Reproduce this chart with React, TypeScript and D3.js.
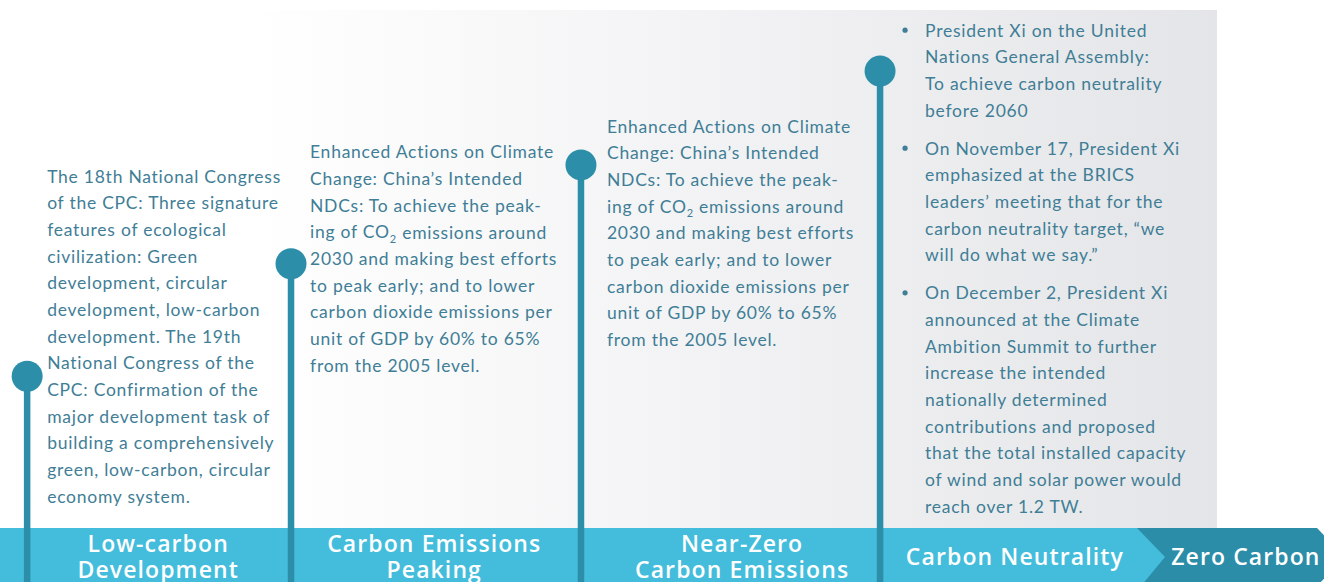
import * as d3 from 'd3';
import React from 'react';

const W = 1324;
const H = 582;

// stages shown in the bottom band (position along timeline, percent)
const stageLabels = [
  ['Low-carbon', 'Development'],
  ['Carbon Emissions', 'Peaking'],
  ['Near-Zero', 'Carbon Emissions'],
  ['Carbon Neutrality'],
  ['Zero Carbon'],
];
const stagePos = [11.95, 32.8, 56.05, 76.65, 94.1];

// milestones: position along timeline (percent) and height level (0-100)
const milestonePos = [2.05, 21.98, 43.88, 66.47];
const milestoneLevel = [29.3, 51.0, 70.1, 88.2];
const textLevel = [67.95, 72.6, 77.6, 96.1];
const textOffset = [20, 19, 26, 45];

const col1 = [
  'The 18th National Congress',
  'of the CPC: Three signature',
  'features of ecological',
  'civilization: Green',
  'development, circular',
  'development, low-carbon',
  'development. The 19th',
  'National Congress of the',
  'CPC: Confirmation of the',
  'major development task of',
  'building a comprehensively',
  'green, low-carbon, circular',
  'economy system.',
];
const ndcLines = [
  'Enhanced Actions on Climate',
  'Change: China\u2019s Intended',
  'NDCs: To achieve the peak-',
  'ing of CO_2 emissions around',
  '2030 and making best efforts',
  'to peak early; and to lower',
  'carbon dioxide emissions per',
  'unit of GDP by 60% to 65%',
  'from the 2005 level.',
];
const bullets = [
  [
    'President Xi on the United',
    'Nations General Assembly:',
    'To achieve carbon neutrality',
    'before 2060',
  ],
  [
    'On November 17, President Xi',
    'emphasized at the BRICS',
    'leaders\u2019 meeting that for the',
    'carbon neutrality target, \u201cwe',
    'will do what we say.\u201d',
  ],
  [
    'On December 2, President Xi',
    'announced at the Climate',
    'Ambition Summit to further',
    'increase the intended',
    'nationally determined',
    'contributions and proposed',
    'that the total installed capacity',
    'of wind and solar power would',
    'reach over 1.2 TW.',
  ],
];

const TEXT = '#3f7e96';
const STEM = '#2c8ea8';
const BAND = '#43bddb';
const BAND_DARK = '#2c8da9';
const FONT = 'Lato, "Open Sans", sans-serif';
const LABEL_FONT = '"Open Sans", Lato, sans-serif';
const LINE = 26.67;
const FS = 17.5;

function Line({ x, y, s }: { x: number; y: number; s: string }) {
  if (s.includes('_2')) {
    const [a, b] = s.split('_2');
    return (
      <text x={x} y={y} dominantBaseline="central">
        {a}
        <tspan fontSize={11} dy={6}>2</tspan>
        <tspan dy={-6}>{b}</tspan>
      </text>
    );
  }
  return (
    <text x={x} y={y} dominantBaseline="central">
      {s}
    </text>
  );
}

export default function App() {
  const x = d3.scaleLinear().domain([0, 100]).range([0, W]);
  const bandTop = 528;
  const y = d3.scaleLinear().domain([0, 100]).range([bandTop, 10]);
  const panelRight = 1217;
  const chevX = 1137;
  const tip = 28;
  const mid = (bandTop + H + 4) / 2;

  const blocks: { lines: string[] }[][] = [
    [{ lines: col1 }],
    [{ lines: ndcLines }],
    [{ lines: ndcLines }],
    bullets.map((b) => ({ lines: b })),
  ];

  return (
    <svg
      width={W}
      height={H}
      style={{ position: 'absolute', left: 0, top: 0, display: 'block' }}
      fontFamily={FONT}
    >
      <defs>
        <linearGradient id="panel" x1="0" x2="1" y1="0" y2="0">
          <stop offset="0.2" stopColor="#ffffff" />
          <stop offset="1" stopColor="#e4e5e8" />
        </linearGradient>
      </defs>
      <rect x={0} y={0} width={W} height={H} fill="#ffffff" />
      <rect x={0} y={y(100)} width={panelRight} height={bandTop - y(100)} fill="url(#panel)" />

      {/* bottom band */}
      <path
        d={`M${chevX - 10},${bandTop} L${chevX + 180},${bandTop} L${chevX + 180 + tip},${mid} L${chevX + 180},${H + 4} L${chevX},${H + 4} Z`}
        fill={BAND_DARK}
      />
      <path
        d={`M0,${bandTop} L${chevX},${bandTop} L${chevX + tip},${mid} L${chevX + 4},${H + 4} L0,${H + 4} Z`}
        fill={BAND}
      />

      {/* milestone stems */}
      {milestonePos.map((p, i) => (
        <g key={i}>
          <line x1={x(p)} x2={x(p)} y1={y(milestoneLevel[i])} y2={H} stroke={STEM} strokeWidth={6.5} />
          <circle cx={x(p)} cy={y(milestoneLevel[i])} r={15.5} fill={STEM} />
        </g>
      ))}

      {/* text blocks */}
      <g fill={TEXT} fontSize={FS} letterSpacing={0.75}>
        {blocks.map((groups, i) => {
          const tx = x(milestonePos[i]) + textOffset[i];
          let cy = y(textLevel[i]);
          const out: React.ReactNode[] = [];
          groups.forEach((g, gi) => {
            if (i === 3) {
              out.push(<circle key={`b${gi}`} cx={tx - 20} cy={cy} r={2.6} fill={TEXT} />);
            }
            g.lines.forEach((s, li) => {
              out.push(<Line key={`${gi}-${li}`} x={tx} y={cy} s={s} />);
              cy += LINE;
            });
            cy += 11.3;
          });
          return <g key={i}>{out}</g>;
        })}
      </g>

      {/* stage labels */}
      <g
        fill="#ffffff"
        fontSize={23}
        fontWeight={600}
        letterSpacing={1.1}
        textAnchor="middle"
        fontFamily={LABEL_FONT}
      >
        {stageLabels.map((lines, i) => {
          const y0 = lines.length === 2 ? 543 : 556;
          return lines.map((s, li) => (
            <text key={`${i}-${li}`} x={x(stagePos[i])} y={y0 + li * 26} dominantBaseline="central">
              {s}
            </text>
          ));
        })}
      </g>
    </svg>
  );
}
